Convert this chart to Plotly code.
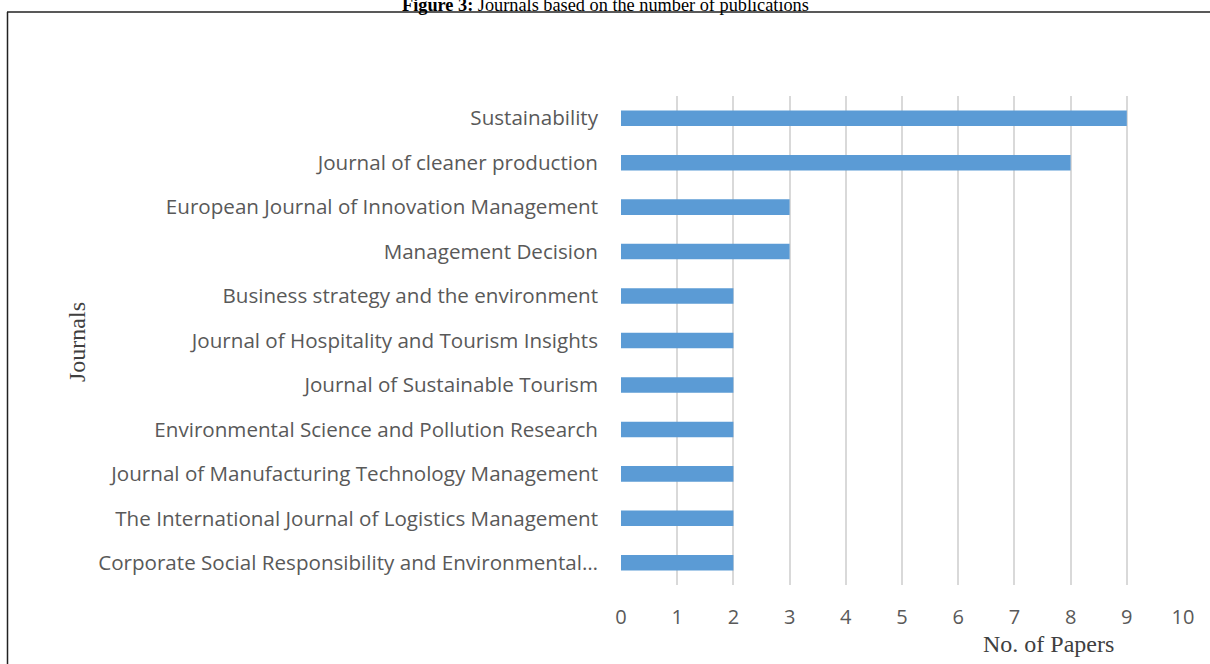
import plotly.graph_objects as go

journals = [
    "Sustainability",
    "Journal of cleaner production",
    "European Journal of Innovation Management",
    "Management Decision",
    "Business strategy and the environment",
    "Journal of Hospitality and Tourism Insights",
    "Journal of Sustainable Tourism",
    "Environmental Science and Pollution Research",
    "Journal of Manufacturing Technology Management",
    "The International Journal of Logistics Management",
    "Corporate Social Responsibility and Environmental…",
]
papers = [9, 8, 3, 3, 2, 2, 2, 2, 2, 2, 2]
x_ticks = list(range(0, 11))

W, H = 1210, 664
L, R, T, B = 621, 27, 96, 79
pw, ph = W - L - R, H - T - B

def px(x):
    return (x - L) / pw

def py(y):
    return (H - B - y) / ph

fig = go.Figure(go.Bar(
    x=papers, y=journals, orientation="h",
    marker=dict(color="#5B9BD5", line=dict(width=0)),
))

fig.update_layout(
    width=W, height=H,
    margin=dict(l=L, r=R, t=T, b=B, autoexpand=False),
    paper_bgcolor="white", plot_bgcolor="white",
    bargap=0.65, showlegend=False,
    font=dict(family="Open Sans", color="#595959"),
)
fig.update_xaxes(
    range=[0, 10], tickvals=x_ticks, ticktext=[str(v) for v in x_ticks],
    showgrid=True, gridcolor="#D9D9D9", gridwidth=1.5,
    zeroline=False, showline=False,
    tickfont=dict(family="Open Sans", size=20, color="#595959"),
    ticklabelstandoff=18,
)
fig.update_yaxes(
    autorange="reversed", showgrid=False, zeroline=False, showline=False,
    tickfont=dict(family="Open Sans", size=20.6, color="#595959"),
    ticklabelstandoff=22,
)

fig.add_annotation(
    text="Journals", textangle=-90, xref="paper", yref="paper",
    x=px(77), y=py(342), xanchor="center", yanchor="middle", showarrow=False,
    font=dict(family="Liberation Serif", size=24, color="#404040"),
)
fig.add_annotation(
    text="No. of Papers", xref="paper", yref="paper",
    x=px(1048), y=py(644), xanchor="center", yanchor="middle", showarrow=False,
    font=dict(family="Liberation Serif", size=24, color="#404040"),
)
fig.add_annotation(
    text="<b>Figure 3:</b> Journals based on the number of publications",
    xref="paper", yref="paper", x=px(605), y=py(17), xanchor="center",
    yanchor="bottom", showarrow=False,
    font=dict(family="Liberation Serif", size=18.3, color="black"),
)

fig.add_shape(type="line", xref="paper", yref="paper",
              x0=px(7), x1=px(1215), y0=py(12), y1=py(12),
              line=dict(color="#222222", width=1.5))
fig.add_shape(type="line", xref="paper", yref="paper",
              x0=px(7.5), x1=px(7.5), y0=py(12), y1=py(670),
              line=dict(color="#222222", width=1.5))

fig.write_html("out.html", config={"displayModeBar": False})

with open("out.html", "r", encoding="utf-8") as f:
    html = f.read()
html = html.replace("<body>", '<body style="margin:0;padding:0;overflow:hidden">', 1)
with open("out.html", "w", encoding="utf-8") as f:
    f.write(html)
